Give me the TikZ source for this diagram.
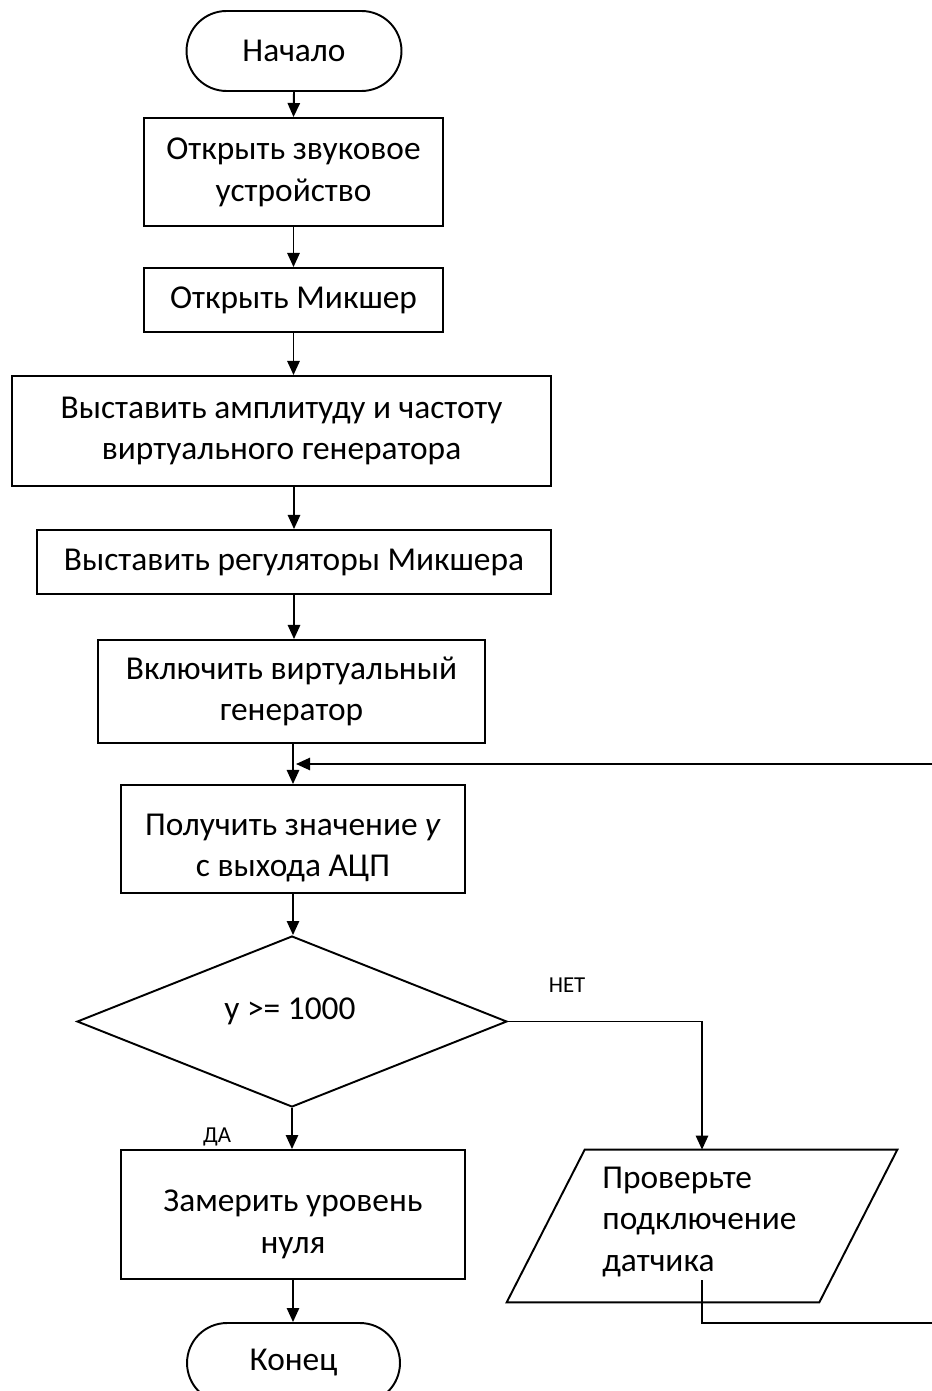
\documentclass[tikz,border=0pt]{standalone}
\usepackage{fontspec}
\setmainfont{Carlito}
\usetikzlibrary{shapes.geometric,arrows.meta,calc}

\tikzset{
	blk/.style={draw, line width=1.1pt, inner sep=0pt, align=center,
		font=\fontsize{19}{23.8}\selectfont},
	term/.style={blk, rounded corners=0.8cm},
	txt/.style={align=center, inner sep=0pt, font=\fontsize{19}{23.8}\selectfont},
	arr/.style={line width=1.1pt, -{Triangle[length=8pt,width=7pt]}},
	lbl/.style={font=\fontsize{13}{15}\selectfont},
}

\begin{document}
\begin{tikzpicture}[x=0.02cm,y=-0.02cm]

\useasboundingbox (0,0) rectangle (931,1391);

%Start
\node [term,
	minimum width=4.3cm,
	minimum height=1.6cm,
]  (start) at (294,51) {Начало};

%Sound device
\node [blk,
	minimum width=5.98cm,
	minimum height=2.16cm,
]  (opendev) at (293.5,172) {Открыть звуковое\\устройство};

%Mixer
\node [blk,
	minimum width=5.98cm,
	minimum height=1.28cm,
]  (openmix) at (293.5,300) {Открыть Микшер};

%Generator settings
\node [blk,
	minimum width=10.78cm,
	minimum height=2.2cm,
]  (setgen) at (281.5,431) {Выставить амплитуду и частоту\\виртуального генератора};

\node [blk,
	minimum width=10.28cm,
	minimum height=1.28cm,
]  (setmix) at (294,562) {Выставить регуляторы Микшера};

\node [blk,
	minimum width=7.74cm,
	minimum height=2.06cm,
]  (gen) at (291.5,691.5) {Включить виртуальный\\генератор};

%Read ADC
\node [blk,
	minimum width=6.88cm,
	minimum height=2.16cm,
]  (adc) at (293,839) {};
\node [txt]  (adctext) at (293,848) {Получить значение \textit{y}\\с выхода АЦП};

%Check
\node [blk, shape=diamond,
	minimum width=8.6cm,
	minimum height=3.42cm,
]  (cond) at (292,1021.5) {};
\node [txt]  (condtext) at (290,1011) {y >= 1000};

%Zero level
\node [blk,
	minimum width=6.88cm,
	minimum height=2.58cm,
]  (zero) at (293,1214.5) {};
\node [txt]  (zerotext) at (293,1224) {Замерить уровень\\нуля};

%End
\node [term,
	minimum width=4.26cm,
	minimum height=1.6cm,
]  (stop) at (293.5,1363) {Конец};

%Sensor message
\node [minimum width=6.24cm,
	minimum height=3.04cm,
	inner sep=0pt,
]  (chk) at (702,1226) {};
\draw [line width=1.1pt] ($(chk.north west)+(39,0)$) -- ($(chk.north east)+(39,0)$)
	-- ($(chk.south east)+(-39,0)$) -- ($(chk.south west)+(-39,0)$) -- cycle;
\node [txt, anchor=west, align=left]  (chktext) at (602,1222) {Проверьте\\подключение\\датчика};

%Arrows
\draw[arr] (start.south) -- (opendev.north);
\draw[arr] (opendev.south) -- (openmix.north);
\draw[arr] (openmix.south) -- (openmix.south |- setgen.north);
\draw[arr] (setmix.north |- setgen.south) -- (setmix.north);
\draw[arr] (setmix.south) -- (setmix.south |- gen.north);
\draw[arr] (adc.north |- gen.south) -- (adc.north);
\draw[arr] (adc.south) -- (adc.south |- cond.north);
\draw[arr] (cond.south) -- (cond.south |- zero.north);
\draw[arr] (zero.south) -- (zero.south |- stop.north);

%Branch
\draw[arr] (cond.east) -| (chk.north);
\node [lbl]  (no) at (567,985) {НЕТ};
\node [lbl]  (yes) at (217,1137) {ДА};

%Loop back
\coordinate (join) at ($(adc.north |- gen.south)!0.5!(adc.north)$);
\coordinate (corner) at (935,1323);
\draw[arr] ($(chk.south)+(0,-22)$) |- (corner) |- ($(join)+(3,0)$);

\end{tikzpicture}
\end{document}
